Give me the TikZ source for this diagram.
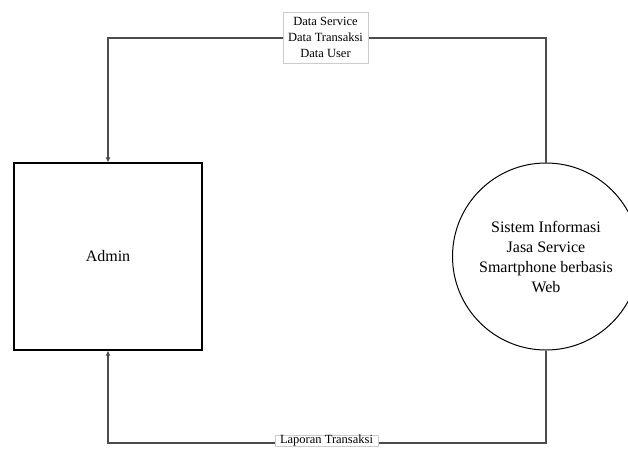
\documentclass[tikz,border=0pt]{standalone}
\usepackage{fontspec}
\setmainfont{Liberation Serif}
\usetikzlibrary{arrows.meta}
\begin{document}
\begin{tikzpicture}[x=1pt,y=-1pt,
  conn/.style={draw=black!70, line width=1.5pt},
  tip/.style={-{Latex[length=5pt,width=5pt]}},
  lbl/.style={draw=black!20, fill=white, line width=0.5pt, inner sep=0.5pt, align=center, font=\fontsize{12.5}{16}\selectfont},
  entity/.style={draw, line width=1.2pt, minimum width=188pt, minimum height=187pt, inner sep=0pt, font=\fontsize{16}{18}\selectfont},
  proc/.style={circle, draw, line width=1pt, minimum size=187pt, inner sep=0pt, align=center, font=\fontsize{16}{20}\selectfont}]
\useasboundingbox (0,0) rectangle (628,448);
\node[entity] (admin) at (108,256.5) {Admin};
\node[proc] (sys) at (546,256.5) {Sistem Informasi\\Jasa Service\\Smartphone berbasis\\Web};
\coordinate (tl) at (108,38);
\coordinate (tr) at (546,38);
\coordinate (bl) at (108,443);
\coordinate (br) at (546,443);
\draw[conn, tip] (sys.north) -- (tr) -- (tl) -- (admin.north);
\draw[conn, tip] (sys.south) -- (br) -- (bl) -- (admin.south);
\node[lbl, minimum width=85pt, minimum height=51pt] (ltop) at (325.5,37.5) {Data Service\\Data Transaksi\\Data User};
\node[lbl, minimum width=103pt, inner sep=0pt] (lbot) at (326.5,440.5) {Laporan Transaksi};
\end{tikzpicture}
\end{document}
